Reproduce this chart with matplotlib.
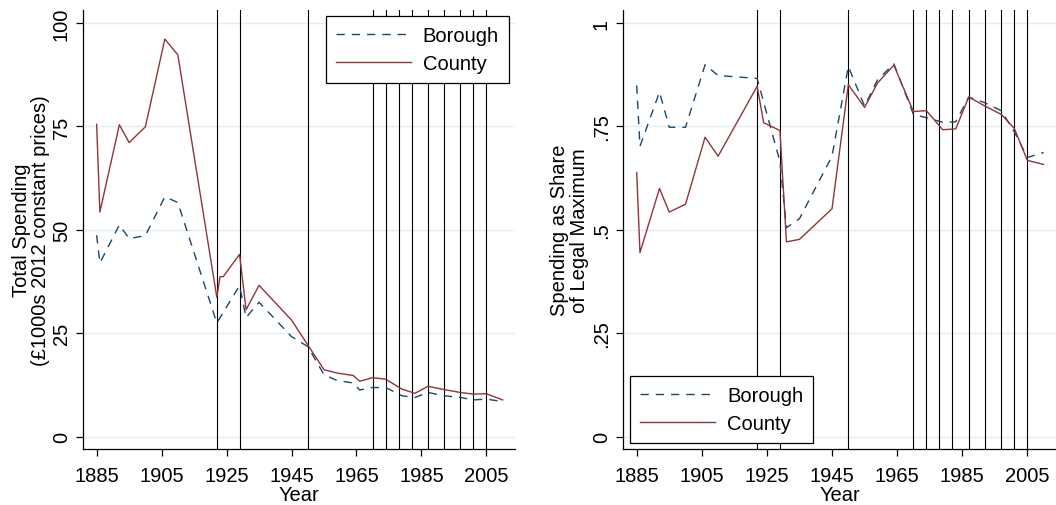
import numpy as np
import matplotlib
matplotlib.use("Agg")
import matplotlib.pyplot as plt

plt.rcParams["font.family"] = ["Liberation Sans", "DejaVu Sans"]

# total spending, £1000s at 2012 prices
years_total = [1885, 1886, 1892, 1895, 1900, 1906, 1910, 1922, 1923, 1924, 1929, 1931, 1935,
               1945, 1950, 1955, 1959, 1964, 1966, 1970, 1974, 1979, 1983, 1987, 1992, 1997,
               2001, 2005, 2010]
borough_total = [48.7, 42.0, 51.2, 47.9, 48.6, 58.0, 56.6, 27.5, np.nan, np.nan, 36.5, 28.8, 32.5,
                 24.2, 21.8, 15.0, 13.6, 13.0, 11.3, 11.9, 11.9, 9.9, 9.5, 10.7, 9.9, 9.5,
                 8.9, 9.1, 8.5]
county_total = [75.5, 54.3, 75.4, 71.1, 74.9, 96.1, 92.3, 33.7, 38.7, 38.7, 44.1, 30.7, 36.6,
                28.2, 22.2, 16.2, 15.4, 14.8, 13.4, 14.3, 13.9, 11.5, 10.5, 12.2, 11.4, 10.7,
                10.3, 10.4, 8.9]

# spending as share of the legal maximum
years_share = [1885, 1886, 1892, 1895, 1900, 1906, 1910, 1922, 1924, 1929, 1931, 1935, 1945,
               1950, 1955, 1959, 1964, 1970, 1974, 1979, 1983, 1987, 1992, 1997, 2001, 2005, 2010]
borough_share = [0.849, 0.702, 0.833, 0.748, 0.748, 0.899, 0.873, 0.866, np.nan, 0.665, 0.505,
                 0.527, 0.678, 0.895, 0.799, 0.863, 0.901, 0.779, 0.771, 0.760, 0.761, 0.821,
                 0.807, 0.788, 0.737, 0.675, 0.687]
county_share = [0.638, 0.445, 0.600, 0.543, 0.562, 0.724, 0.678, 0.847, 0.759, 0.740, 0.471,
                0.477, 0.551, 0.851, 0.796, 0.855, 0.898, 0.786, 0.788, 0.742, 0.744, 0.821,
                0.799, 0.779, 0.745, 0.668, 0.658]

# years marked with vertical reference lines
events = [1922, 1929, 1950, 1970, 1974, 1978, 1982, 1987, 1992, 1997, 2001, 2005]

xticks = [1885, 1905, 1925, 1945, 1965, 1985, 2005]
yticks_total = [0, 25, 50, 75, 100]
yticks_share = [0, 0.25, 0.5, 0.75, 1]
ylabels_share = ["0", ".25", ".5", ".75", "1"]

NAVY = "#1a476f"
MAROON = "#90353b"
GRID = "#e4edef"
FS = 14.5


def series(ax, x, y, **kw):
    x = np.asarray(x, float); y = np.asarray(y, float)
    m = np.isfinite(y)
    ax.plot(x[m], y[m], **kw)


def panel(ax, x, bor, cty, yticks, ylabels, ylim, ylabel, labelpad, legend_kw):
    for t in yticks:
        ax.axhline(t, color=GRID, lw=1.0, zorder=0)
    for e in events:
        ax.axvline(e, color="black", lw=0.8, zorder=1)
    series(ax, x, bor, color=NAVY, lw=1.0, dashes=(6, 5), label="Borough", zorder=3)
    series(ax, x, cty, color=MAROON, lw=1.0, label="County", zorder=3)
    ax.set_xlim(1880.9, 2013.8)
    ax.set_ylim(*ylim)
    ax.set_xticks(xticks)
    ax.set_yticks(yticks)
    ax.set_yticklabels(ylabels, rotation=90, va="center")
    ax.tick_params(labelsize=FS, length=5, width=0.9, direction="out")
    ax.tick_params(axis="x", pad=7)
    ax.tick_params(axis="y", pad=4)
    for s in ("top", "right"):
        ax.spines[s].set_visible(False)
    for s in ("left", "bottom"):
        ax.spines[s].set_linewidth(0.9)
    ax.set_xlabel("Year", fontsize=FS, labelpad=0)
    ax.set_ylabel(ylabel, fontsize=FS, labelpad=labelpad, linespacing=1.05)
    leg = ax.legend(fontsize=FS, handlelength=3.7, handletextpad=0.6, labelspacing=0.42,
                    borderpad=0.5, borderaxespad=0, fancybox=False, framealpha=1,
                    edgecolor="black", **legend_kw)
    leg.get_frame().set_linewidth(0.9)


fig = plt.figure(figsize=(10.56, 5.06), dpi=100)
ax1 = fig.add_axes([0.0789, 0.110, 0.4088, 0.868])
ax2 = fig.add_axes([0.5903, 0.110, 0.4097, 0.868])

panel(ax1, years_total, borough_total, county_total, yticks_total,
      [str(t) for t in yticks_total], (-3.04, 103.1),
      "Total Spending\n(£1000s 2012 constant prices)", 1,
      dict(loc="upper right", bbox_to_anchor=(0.986, 0.986)))
panel(ax2, years_share, borough_share, county_share, yticks_share, ylabels_share,
      (-0.0304, 1.031), "Spending as Share\nof Legal Maximum", 2,
      dict(loc="lower left", bbox_to_anchor=(0.016, 0.015)))

fig.savefig("out.png", dpi=100)
